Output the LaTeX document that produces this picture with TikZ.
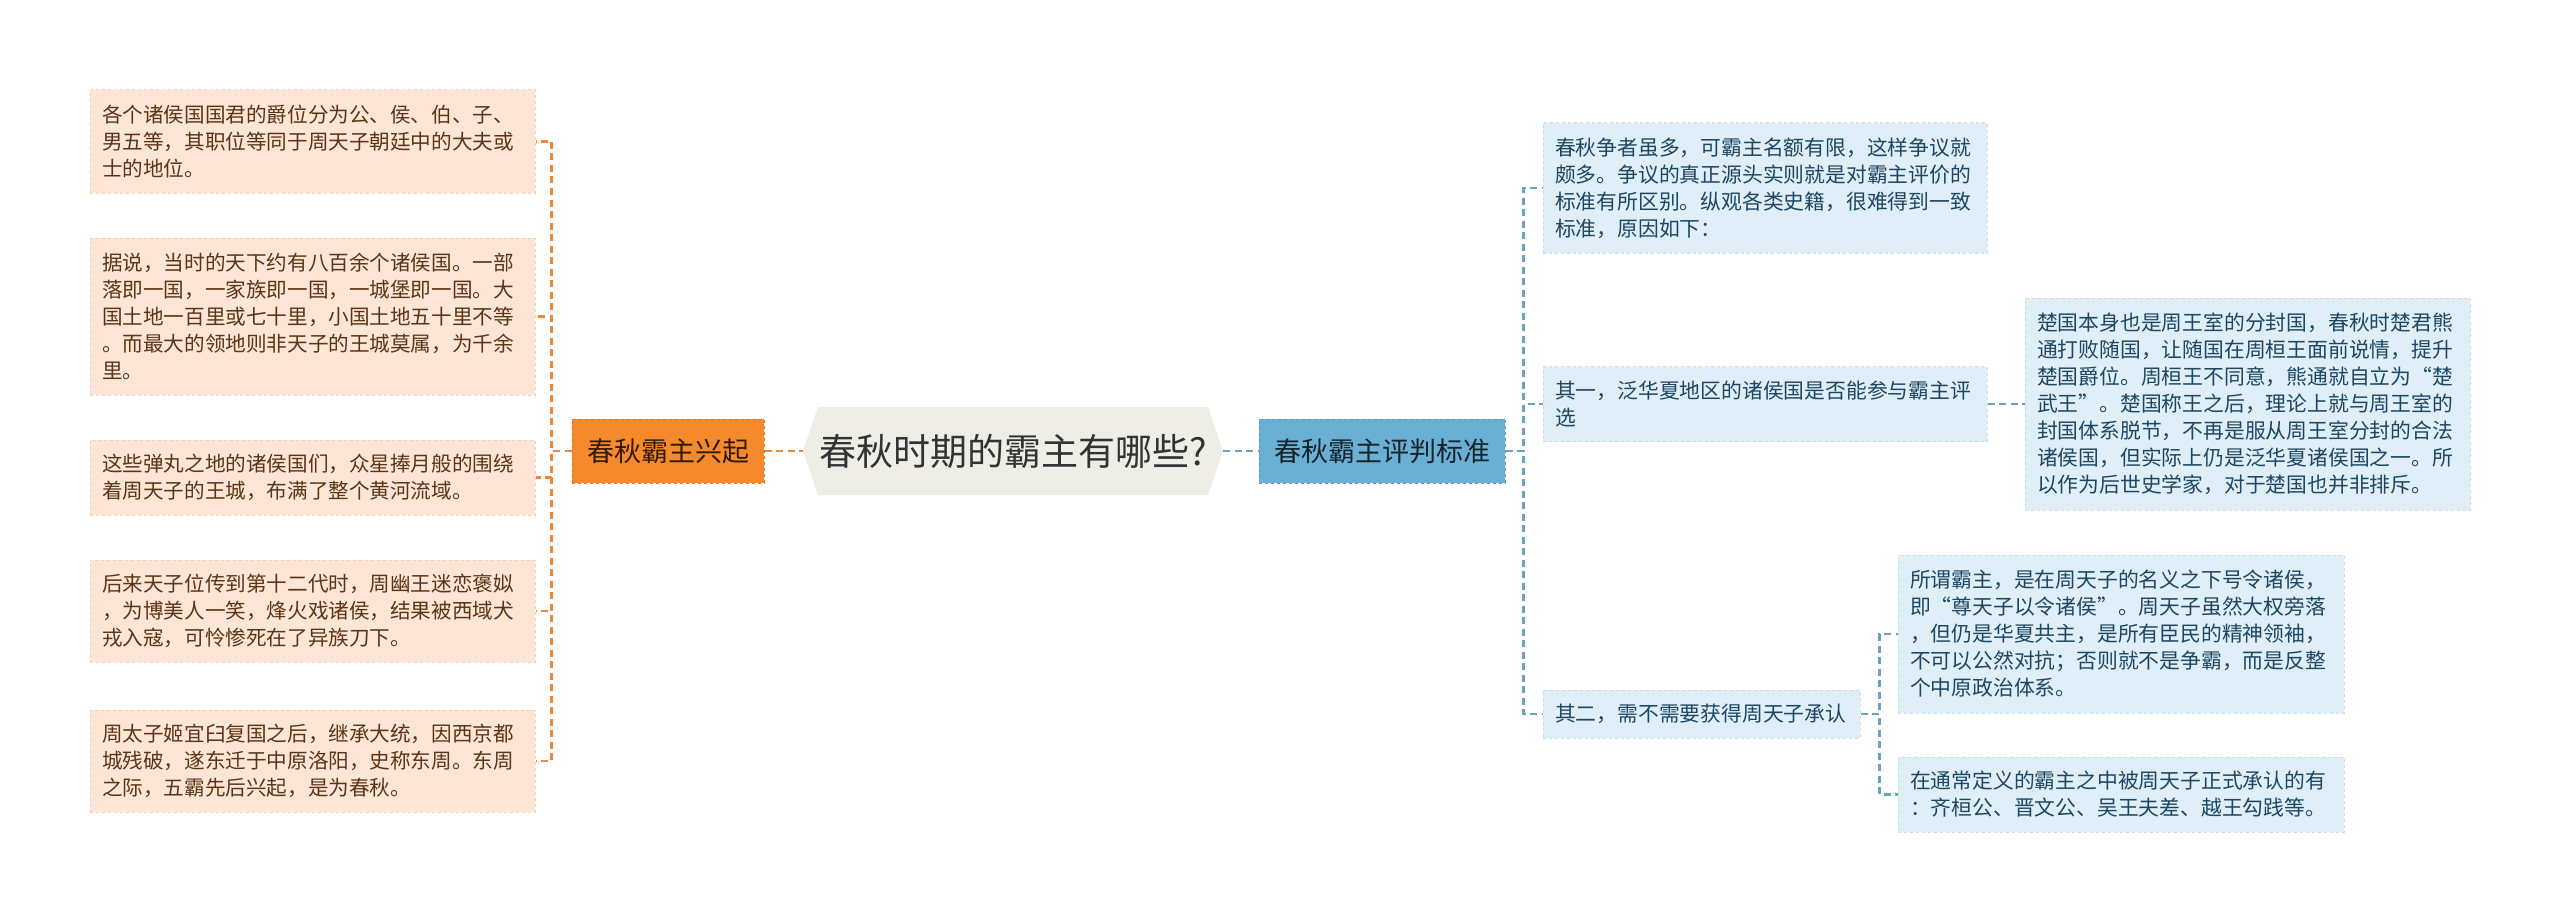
\documentclass[tikz,border=0pt]{standalone}
\usepackage{fontspec}
\setmainfont{Noto Sans CJK SC}
\usetikzlibrary{calc}
\definecolor{peach}{HTML}{FDE6D5}
\definecolor{peachline}{HTML}{F6D0B6}
\definecolor{brownText}{HTML}{5A3517}
\definecolor{orangeN}{HTML}{F5892B}
\definecolor{orangeNline}{HTML}{E07A20}
\definecolor{orangeLine}{HTML}{EE8838}
\definecolor{hexfill}{HTML}{EEEEE6}
\definecolor{blueN}{HTML}{6AAFD4}
\definecolor{blueNline}{HTML}{5A9CC2}
\definecolor{blueLine}{HTML}{6AA3C2}
\definecolor{lightblue}{HTML}{DFEEF7}
\definecolor{lightblueline}{HTML}{C6DEEC}
\definecolor{blueText}{HTML}{1D4763}
\tikzset{
  leafL/.style={fill=peach, draw=peachline, dashed, line width=1pt, text=brownText,
    font=\fontsize{20.6}{27}\selectfont, align=left, inner sep=0pt,
    minimum width=445pt, text width=421pt},
  leafR/.style={fill=lightblue, draw=lightblueline, dashed, line width=1pt, text=blueText,
    font=\fontsize{20.8}{27}\selectfont, align=left, inner sep=0pt},
  mainO/.style={fill=orangeN, draw=orangeNline, dashed, line width=1pt, text=black!80!orangeN,
    font=\fontsize{27}{32}\selectfont, inner sep=0pt, minimum width=192pt, minimum height=64pt},
  mainB/.style={fill=blueN, draw=blueNline, dashed, line width=1pt, text=black!80!blueN,
    font=\fontsize{27}{32}\selectfont, inner sep=0pt, minimum width=246pt, minimum height=64pt},
  conO/.style={draw=orangeLine, line width=2.4pt, dash pattern=on 7pt off 4.5pt},
  conB/.style={draw=blueLine, line width=2.4pt, dash pattern=on 7pt off 4.5pt},
}
\begin{document}
\begin{tikzpicture}[x=1pt, y=-1pt]
\fill[white] (0,0) rectangle (2560,923);
\useasboundingbox (0,0) rectangle (2560,923);

% root hexagon
\fill[hexfill] (803,451) -- (818,407) -- (1208,407) -- (1223,451) -- (1208,495) -- (818,495) -- cycle;
\node[inner sep=0pt, minimum width=420pt, minimum height=88pt, text=black!80,
  font=\fontsize{37}{42}\selectfont] (root) at (1013,451) {春秋时期的霸主有哪些?};

\node[mainO] (orange) at (668,451) {春秋霸主兴起};
\node[mainB] (blue) at (1382,451) {春秋霸主评判标准};

% left leaves
\node[leafL, minimum height=103pt] (l1) at (312.5,141.5) {各个诸侯国国君的爵位分为公、侯、伯、子、\\男五等，其职位等同于周天子朝廷中的大夫或\\士的地位。};
\node[leafL, minimum height=157pt] (l2) at (312.5,316.5) {据说，当时的天下约有八百余个诸侯国。一部\\落即一国，一家族即一国，一城堡即一国。大\\国土地一百里或七十里，小国土地五十里不等\\。而最大的领地则非天子的王城莫属，为千余\\里。};
\node[leafL, minimum height=75pt] (l3) at (312.5,477.5) {这些弹丸之地的诸侯国们，众星捧月般的围绕\\着周天子的王城，布满了整个黄河流域。};
\node[leafL, minimum height=102pt] (l4) at (312.5,611) {后来天子位传到第十二代时，周幽王迷恋褒姒\\，为博美人一笑，烽火戏诸侯，结果被西域犬\\戎入寇，可怜惨死在了异族刀下。};
\node[leafL, minimum height=102pt] (l5) at (312.5,761) {周太子姬宜臼复国之后，继承大统，因西京都\\城残破，遂东迁于中原洛阳，史称东周。东周\\之际，五霸先后兴起，是为春秋。};

% right leaves
\node[leafR, minimum width=444pt, text width=420pt, minimum height=130pt] (r1) at (1765,188) {春秋争者虽多，可霸主名额有限，这样争议就\\颇多。争议的真正源头实则就是对霸主评价的\\标准有所区别。纵观各类史籍，很难得到一致\\标准，原因如下：};
\node[leafR, minimum width=444pt, text width=420pt, minimum height=75pt] (r2) at (1765,404) {其一，泛华夏地区的诸侯国是否能参与霸主评\\选};
\node[leafR, minimum width=317pt, text width=293pt, minimum height=48pt] (r3) at (1701.5,714) {其二，需不需要获得周天子承认};
\node[leafR, minimum width=445pt, text width=421pt, minimum height=212pt] (chu) at (2247.5,404) {楚国本身也是周王室的分封国，春秋时楚君熊\\通打败随国，让随国在周桓王面前说情，提升\\楚国爵位。周桓王不同意，熊通就自立为“楚\\武王”。楚国称王之后，理论上就与周王室的\\封国体系脱节，不再是服从周王室分封的合法\\诸侯国，但实际上仍是泛华夏诸侯国之一。所\\以作为后世史学家，对于楚国也并非排斥。};
\node[leafR, minimum width=446pt, text width=422pt, minimum height=158pt] (c1) at (2121,634) {所谓霸主，是在周天子的名义之下号令诸侯，\\即“尊天子以令诸侯”。周天子虽然大权旁落\\，但仍是华夏共主，是所有臣民的精神领袖，\\不可以公然对抗；否则就不是争霸，而是反整\\个中原政治体系。};
\node[leafR, minimum width=446pt, text width=422pt, minimum height=75pt] (c2) at (2121,794.5) {在通常定义的霸主之中被周天子正式承认的有\\：齐桓公、晋文公、吴王夫差、越王勾践等。};

% connectors
\draw[conO] (orange.east) -- (root.west);
\draw[conB] (root.east) -- (blue.west);
\foreach \b in {l1,l2,l3,l4,l5}
  \draw[conO] (orange.west) -- ++(-20,0) |- (\b.east);
\foreach \b in {r1,r2,r3}
  \draw[conB] (blue.east) -- ++(18,0) |- (\b.west);
\draw[conB] (r2.east) -- (chu.west);
\foreach \b in {c1,c2}
  \draw[conB] (r3.east) -- ++(19,0) |- (\b.west);
\end{tikzpicture}
\end{document}
